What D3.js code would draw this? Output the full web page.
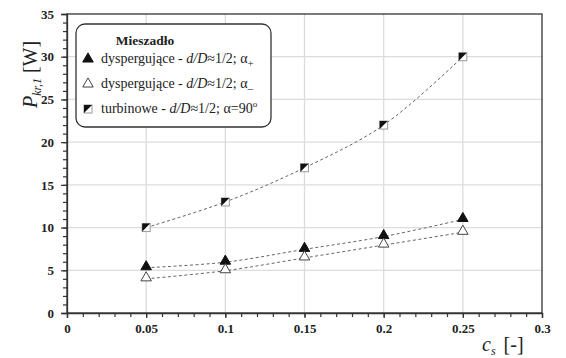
<!DOCTYPE html>
<html><head><meta charset="utf-8">
<script src="https://cdn.jsdelivr.net/npm/d3@7"></script>
<style>
body{margin:0;background:#fff;}
svg text{font-family:"Liberation Serif","Times New Roman","DejaVu Serif",serif !important;}
</style></head><body>
<svg id="c" width="566" height="358"></svg>
<script>
const cs = [0.05, 0.1, 0.15, 0.2, 0.25];
const dyspPlus = [5.3, 5.95, 7.45, 8.95, 10.95];
const dyspMinus = [4.0, 4.95, 6.45, 7.95, 9.45];
const turbinowe = [10, 13, 17, 22, 30];
const xTicks = [0, 0.05, 0.1, 0.15, 0.2, 0.25, 0.3];
const yTicks = [0, 5, 10, 15, 20, 25, 30, 35];

const svg = d3.select("#c");
const L = 67, R = 542, T = 14, B = 313;
const x = d3.scaleLinear().domain([0, 0.3]).range([L, R]);
const y = d3.scaleLinear().domain([0, 35]).range([B, T]);

// grid
svg.append("g").selectAll("line").data(xTicks.slice(1, -1)).join("line")
  .attr("x1", d => x(d)).attr("x2", d => x(d)).attr("y1", T).attr("y2", B)
  .attr("stroke", "#dcdcdc").attr("stroke-width", 1.3);
svg.append("g").selectAll("line").data(yTicks.slice(1, -1)).join("line")
  .attr("y1", d => y(d)).attr("y2", d => y(d)).attr("x1", L).attr("x2", R)
  .attr("stroke", "#dcdcdc").attr("stroke-width", 1.3);

// frame
svg.append("rect").attr("x", L).attr("y", T).attr("width", R - L).attr("height", B - T)
  .attr("fill", "none").attr("stroke", "#333").attr("stroke-width", 1.3);

// axes
const xAxis = d3.axisBottom(x).tickValues(xTicks).tickFormat(d => d3.format("")(d)).tickSize(5).tickPadding(6);
const gx = svg.append("g").attr("transform", `translate(0,${B})`).call(xAxis);
const xMinor = d3.range(0, 0.3001, 0.01);
svg.append("g").attr("transform", `translate(0,${B})`)
  .call(d3.axisBottom(x).tickValues(xMinor).tickFormat("").tickSize(4)).select(".domain").remove();
const gy = svg.append("g").attr("transform", `translate(${L},0)`)
  .call(d3.axisLeft(y).tickValues(yTicks).tickSize(6).tickPadding(7));
svg.append("g").attr("transform", `translate(${L},0)`)
  .call(d3.axisLeft(y).tickValues(d3.range(0, 35.01, 1)).tickFormat("").tickSize(4)).select(".domain").remove();
svg.selectAll(".tick line").attr("stroke", "#333").attr("stroke-width", 1.2);
svg.selectAll(".domain").attr("stroke", "#333").attr("stroke-width", 1.3);
svg.selectAll(".tick text").attr("font-weight", "bold").attr("font-size", 13).attr("fill", "#222");

// lines
const line = d3.line().x(d => x(d[0])).y(d => y(d[1])).curve(d3.curveCatmullRom);
const series = [dyspPlus, dyspMinus, turbinowe];
series.forEach(s => {
  svg.append("path").datum(cs.map((c, i) => [c, s[i]])).attr("d", line)
    .attr("fill", "none").attr("stroke", "#666").attr("stroke-width", 1)
    .attr("stroke-dasharray", "3,2.5");
});

const tri = d3.symbol().type(d3.symbolTriangle).size(48);
function triMarker(g, cx, cy, filled) {
  g.append("path").attr("d", tri()).attr("transform", `translate(${cx},${cy - 1})`)
    .attr("fill", filled ? "#111" : "#fff").attr("stroke", filled ? "#111" : "#444").attr("stroke-width", 1);
}
function sqMarker(g, cx, cy) {
  const s = 8, h = s / 2;
  g.append("rect").attr("x", cx - h).attr("y", cy - h).attr("width", s).attr("height", s)
    .attr("fill", "#fff").attr("stroke", "#999").attr("stroke-width", 1);
  g.append("path").attr("d", `M${cx - h},${cy - h}L${cx + h},${cy - h}L${cx - h},${cy + h}Z`).attr("fill", "#111");
}
const mg = svg.append("g");
cs.forEach((c, i) => triMarker(mg, x(c), y(dyspPlus[i]), true));
cs.forEach((c, i) => triMarker(mg, x(c), y(dyspMinus[i]), false));
cs.forEach((c, i) => sqMarker(mg, x(c), y(turbinowe[i])));

// axis titles
const yl = svg.append("text").attr("transform", "translate(37,108) rotate(-90)")
  .attr("font-size", 20).attr("fill", "#222");
yl.append("tspan").attr("font-style", "italic").text("P");
yl.append("tspan").attr("font-style", "italic").attr("font-size", 12).attr("dy", 4).text("kr,1");
yl.append("tspan").attr("dy", -4).text(" [W]");

const xl = svg.append("text").attr("x", 482).attr("y", 351)
  .attr("font-size", 20).attr("fill", "#222");
xl.append("tspan").attr("font-style", "italic").text("c");
xl.append("tspan").attr("font-style", "italic").attr("font-size", 12).attr("dy", 4).text("s");
xl.append("tspan").attr("dy", -4).attr("dx", 8).text("[-]");

// legend
const lg = svg.append("g");
lg.append("rect").attr("x", 76).attr("y", 24).attr("width", 195).attr("height", 103).attr("rx", 9)
  .attr("fill", "#fff").attr("stroke", "#333").attr("stroke-width", 1.3);
lg.append("text").attr("x", 145).attr("y", 45).attr("text-anchor", "middle")
  .attr("font-weight", "bold").attr("font-size", 13.5).attr("fill", "#222").text("Mieszadło");
const entries = [
  {t: "dyspergujące - ", sub: "+", kind: "f"},
  {t: "dyspergujące - ", sub: "\u2012", kind: "h"},
  {t: "turbinowe - ", sub: null, kind: "s"}
];
const ly = [63, 88, 113];
entries.forEach((e, i) => {
  const cy = ly[i] - 4;
  if (e.kind === "s") sqMarker(lg, 88, cy); else triMarker(lg, 88, cy + 1, e.kind === "f");
  const t = lg.append("text").attr("x", 101).attr("y", ly[i]).attr("font-size", 14).attr("fill", "#222");
  t.append("tspan").text(e.t);
  t.append("tspan").attr("font-style", "italic").text("d/D");
  t.append("tspan").text("\u22481/2; \u03b1");
  if (e.sub) {
    t.append("tspan").attr("font-size", 11).attr("dy", 4).text(e.sub);
  } else {
    t.append("tspan").text("=90");
    t.append("tspan").attr("font-size", 9).attr("dy", -6).text("o");
  }
});
</script>
</body></html>
